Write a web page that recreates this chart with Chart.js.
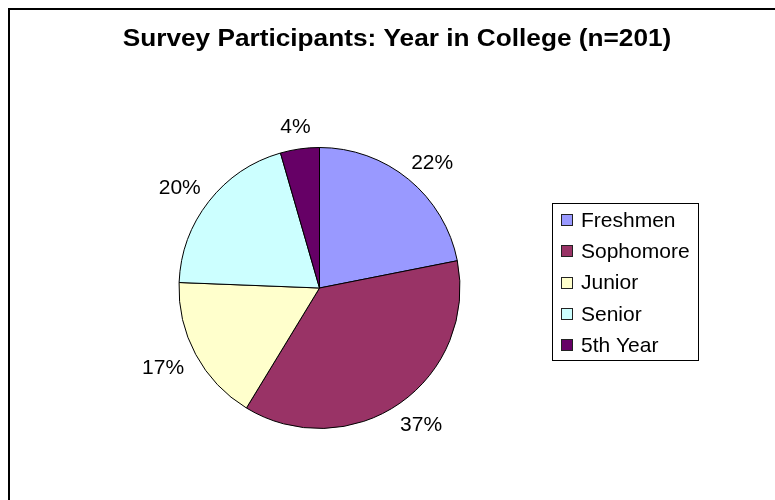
<!DOCTYPE html>
<html>
<head>
<meta charset="utf-8">
<script src="https://cdn.jsdelivr.net/npm/chart.js@4/dist/chart.umd.min.js"></script>
<style>
  html, body { margin: 0; padding: 0; background: #fff; }
  #wrap { width: 775px; height: 500px; }
</style>
</head>
<body>
<div id="wrap"><canvas id="pie" width="775" height="500"></canvas></div>
<script>
const titleText = "Survey Participants: Year in College (n=201)";
const categories = ["Freshmen", "Sophomore", "Junior", "Senior", "5th Year"];
const counts = [44, 74, 34, 40, 9];
const sliceColors = ["#9999FF", "#993366", "#FFFFCC", "#CCFFFF", "#660066"];

const FONT = "Arial, 'Liberation Sans', sans-serif";

// frame, title, outside percent labels and the boxed legend
const excelLook = {
  id: "excelLook",
  beforeDraw(chart) {
    const ctx = chart.ctx;
    ctx.save();
    ctx.fillStyle = "#fff";
    ctx.fillRect(0, 0, chart.width, chart.height);
    ctx.strokeStyle = "#000";
    ctx.lineWidth = 2;
    ctx.strokeRect(9, 9, chart.width + 20, chart.height + 20);
    ctx.restore();
  },
  afterDraw(chart) {
    const ctx = chart.ctx;
    ctx.save();

    // title (the original is a little wider than plain Arial bold)
    ctx.fillStyle = "#000";
    ctx.font = "bold 23px " + FONT;
    ctx.textAlign = "center";
    ctx.textBaseline = "middle";
    ctx.save();
    ctx.translate(397, 40);
    ctx.scale(1.14, 1);
    ctx.fillText(titleText, 0, 0);
    ctx.restore();

    // percent labels just outside each slice
    const total = counts.reduce((a, b) => a + b, 0);
    const arcs = chart.getDatasetMeta(0).data;
    ctx.font = "21px " + FONT;
    arcs.forEach((arc, i) => {
      const mid = (arc.startAngle + arc.endAngle) / 2;
      const r = arc.outerRadius + 16;
      const label = Math.round(counts[i] / total * 100) + "%";
      const w = ctx.measureText(label).width;
      const h = 16;
      const ax = arc.x + Math.cos(mid) * r;
      const ay = arc.y + Math.sin(mid) * r;
      const cx = ax + Math.cos(mid) * w / 2;
      const cy = ay + Math.sin(mid) * h / 2;
      ctx.fillText(label, cx, cy + 2);
    });

    // legend
    const lx = 552, ly = 203, lw = 146, lh = 157;
    ctx.strokeStyle = "#000";
    ctx.lineWidth = 1;
    ctx.strokeRect(lx + 0.5, ly + 0.5, lw, lh);
    ctx.textAlign = "left";
    categories.forEach((name, i) => {
      const y = 220 + i * 31.3;
      ctx.fillStyle = sliceColors[i];
      ctx.fillRect(561, Math.round(y - 6), 12, 12);
      ctx.strokeStyle = "#222";
      ctx.strokeRect(561.5, Math.round(y - 6) + 0.5, 11, 11);
      ctx.fillStyle = "#000";
      ctx.fillText(name, 581, y + 1);
    });

    ctx.restore();
  }
};

new Chart(document.getElementById("pie"), {
  type: "pie",
  data: {
    labels: categories,
    datasets: [
      {
        data: counts,
        backgroundColor: sliceColors,
        borderColor: "#000",
        borderWidth: 1,
        hoverOffset: 0,
        offset: 0,
      },
    ],
  },
  options: {
    responsive: false,
    animation: false,
    layout: { padding: { left: 178, right: 314, top: 147, bottom: 71 } },
    plugins: {
      legend: { display: false },
      title: { display: false },
      tooltip: { enabled: false },
    },
  },
  plugins: [excelLook],
});
</script>
</body>
</html>
